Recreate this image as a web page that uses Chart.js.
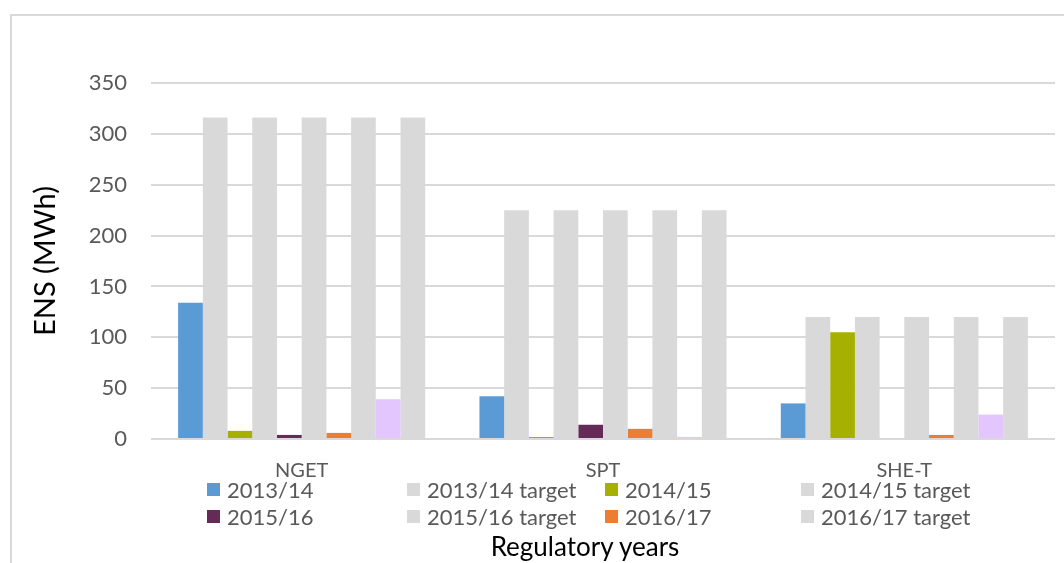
<!DOCTYPE html>
<html>
<head>
<meta charset="utf-8">
<script src="https://cdn.jsdelivr.net/npm/chart.js@4.4.1/dist/chart.umd.min.js"></script>
<style>
    html, body {
        margin: 0;
        padding: 0;
        background: #ffffff;
    }
    #wrap {
        position: relative;
        width: 1064px;
        height: 563px;
        font-family: Lato, 'Open Sans', sans-serif;
    }
    #frame {
        position: absolute;
        left: 10px;
        top: 14px;
        right: 0;
        bottom: 0;
        border-left: 2px solid #d9d9d9;
        border-top: 2px solid #d9d9d9;
    }
    #chart {
        position: absolute;
        left: 0;
        top: 0;
    }
    #legend {
        position: absolute;
        left: 207px;
        top: 476px;
        display: grid;
        grid-template-columns: 200px 198px 196px 200px;
        grid-auto-rows: 27px;
        color: #595959;
        font-size: 22px;
    }
    #legend .item {
        display: flex;
        align-items: center;
        white-space: nowrap;
    }
    #legend .box {
        width: 13px;
        height: 13px;
        margin-right: 7px;
    }
    #xtitle {
        position: absolute;
        left: 0;
        width: 1170px;
        top: 530px;
        text-align: center;
        font-size: 26px;
        color: #000000;
    }
</style>
</head>
<body>
<div id="wrap">
    <div id="frame"></div>
    <canvas id="chart" width="1064" height="563"></canvas>
    <div id="legend"></div>
    <div id="xtitle">Regulatory years</div>
</div>
<script>
    // Categories and tick labels
    const categories = ['NGET', 'SPT', 'SHE-T'];
    const yTicks = [0, 50, 100, 150, 200, 250, 300, 350];

    // Series values (ENS in MWh)
    const ens1314 = [134, 42, 35];
    const target1314 = [316, 225, 120];
    const ens1415 = [8, 2, 105];
    const target1415 = [316, 225, 120];
    const ens1516 = [4, 14, 0];
    const target1516 = [316, 225, 120];
    const ens1617 = [6, 10, 4];
    const target1617 = [316, 225, 120];
    const ens1718 = [39, 2, 24];
    const target1718 = [316, 225, 120];

    const GREY = '#d9d9d9';

    // Series in drawing order; the last two are not shown in the legend
    const series = [
        { label: '2013/14', data: ens1314, color: '#5b9bd5', legend: true },
        { label: '2013/14 target', data: target1314, color: GREY, legend: true },
        { label: '2014/15', data: ens1415, color: '#a5b000', legend: true },
        { label: '2014/15 target', data: target1415, color: GREY, legend: true },
        { label: '2015/16', data: ens1516, color: '#652a55', legend: true },
        { label: '2015/16 target', data: target1516, color: GREY, legend: true },
        { label: '2016/17', data: ens1617, color: '#ed7d31', legend: true },
        { label: '2016/17 target', data: target1617, color: GREY, legend: true },
        { label: '2017/18', data: ens1718, color: '#e2c6fd', legend: false },
        { label: '2017/18 target', data: target1718, color: GREY, legend: false }
    ];

    /**
     * Build the HTML legend (fixed column grid)
     */
    function buildLegend() {
        const el = document.getElementById('legend');
        series.filter(function(s) { return s.legend; }).forEach(function(s) {
            const item = document.createElement('div');
            item.className = 'item';
            item.innerHTML = '<span class="box" style="background:' + s.color + '"></span>' + s.label;
            el.appendChild(item);
        });
    }

    buildLegend();

    const ctx = document.getElementById('chart').getContext('2d');

    new Chart(ctx, {
        type: 'bar',
        data: {
            labels: categories,
            datasets: series.map(function(s) {
                return {
                    label: s.label,
                    data: s.data,
                    backgroundColor: s.color,
                    borderWidth: 0,
                    categoryPercentage: 0.82,
                    barPercentage: 1.0
                };
            })
        },
        options: {
            responsive: false,
            animation: false,
            layout: {
                padding: { left: 24, top: 83, right: 9, bottom: 60 }
            },
            plugins: {
                legend: { display: false },
                tooltip: { enabled: false }
            },
            scales: {
                x: {
                    grid: { display: false, drawTicks: false },
                    border: { display: false },
                    ticks: {
                        color: '#595959',
                        padding: 20,
                        font: { family: 'Lato', size: 20 }
                    }
                },
                y: {
                    min: 0,
                    max: 350,
                    afterBuildTicks: function(scale) {
                        scale.ticks = yTicks.map(function(v) { return { value: v }; });
                    },
                    afterFit: function(scale) {
                        scale.width = 127;
                    },
                    grid: {
                        color: GREY,
                        lineWidth: 2,
                        drawTicks: false
                    },
                    border: { display: false },
                    ticks: {
                        color: '#595959',
                        padding: 24,
                        font: { family: 'Lato', size: 22 }
                    },
                    title: {
                        display: true,
                        text: 'ENS (MWh)',
                        color: '#000000',
                        padding: { top: 4, bottom: 4 },
                        font: { family: 'Lato', size: 29 }
                    }
                }
            }
        }
    });
</script>
</body>
</html>
